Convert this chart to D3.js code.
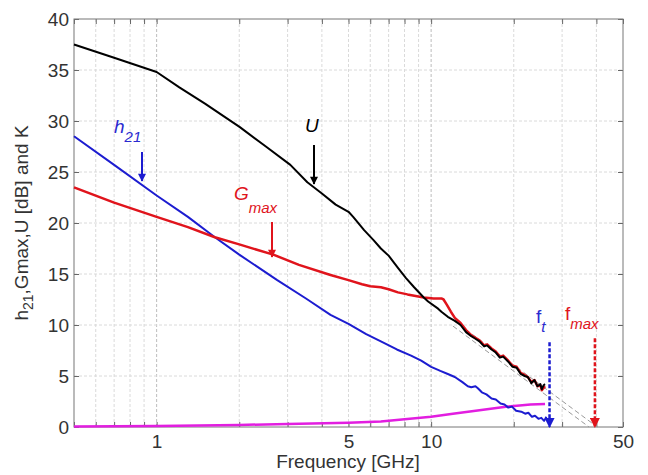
<!DOCTYPE html>
<html>
<head>
<meta charset="utf-8">
<script src="https://cdn.jsdelivr.net/npm/d3@7"></script>
<style>
  body { margin: 0; background: #fff; }
  svg { font-family: "Liberation Sans", Arial, sans-serif; }
</style>
</head>
<body>
<div id="chart"></div>
<script>
// U (black)
var freqU = [0.5, 0.7, 1, 1.21, 1.5, 2.01, 2.5, 3.07, 3.54, 4.0, 4.49, 5.0, 5.2, 5.7, 6.18, 6.56, 7.0, 7.57, 8.1, 8.67, 9.4, 9.75, 10.6, 10.9, 11.5, 12.2, 12.8, 13.4, 14.0, 14.4, 15.0, 15.6, 16.0, 16.6, 17.2, 17.8, 18.3, 19.1, 19.8, 20.5, 21.2, 21.9, 22.5, 23.2, 23.8, 24.4, 25.0, 25.3, 25.7, 26.0];
var valU = [37.5, 36.2, 34.8, 33.3, 31.7, 29.4, 27.5, 25.7, 24.0, 22.9, 21.8, 21.1, 20.6, 19.3, 18.3, 17.5, 16.8, 15.6, 14.6, 13.7, 12.7, 12.3, 11.6, 11.3, 10.8, 10.4, 10.0, 9.3, 8.9, 8.7, 8.4, 7.9, 8.0, 7.6, 7.3, 6.8, 6.9, 6.4, 5.9, 5.8, 5.2, 5.0, 4.9, 4.3, 4.6, 4.0, 4.2, 3.7, 4.1, 4.2];

// Gmax (red)
var freqG = [0.5, 0.7, 1, 1.3, 1.63, 2.0, 2.66, 3.3, 4.3, 5.0, 5.6, 6.0, 6.56, 7.0, 7.57, 8.2, 9.4, 10.2, 10.9, 11.1, 11.4, 11.8, 12.2, 12.8, 13.4, 14.0, 14.4, 15.0, 15.6, 16.0, 16.6, 17.2, 17.8, 18.3, 19.1, 19.8, 20.5, 21.2, 21.9, 22.5, 23.2, 23.8, 24.4, 25.0, 25.3, 26.0];
var valG = [23.5, 22.0, 20.6, 19.6, 18.6, 17.9, 16.9, 15.9, 14.9, 14.4, 14.0, 13.8, 13.7, 13.5, 13.2, 13.0, 12.7, 12.6, 12.6, 12.5, 12.0, 11.3, 10.7, 10.2, 9.5, 9.0, 8.8, 8.5, 8.0, 8.1, 7.7, 7.4, 6.9, 7.0, 6.5, 6.0, 5.9, 5.3, 5.1, 4.9, 4.4, 4.6, 4.0, 4.1, 3.6, 4.0];

// h21 (blue)
var freqH = [0.5, 0.7, 1, 1.3, 1.63, 2.0, 2.75, 3.5, 4.3, 5.0, 5.8, 6.56, 7.5, 8.45, 9.2, 10, 10.8, 11.5, 12.2, 13.0, 13.6, 14.0, 14.5, 14.8, 15.3, 15.9, 16.6, 17.2, 17.9, 18.5, 19.1, 19.7, 20.4, 21.3, 22.0, 22.6, 23.3, 23.9, 24.6, 25.2, 25.8, 26.3];
var valH = [28.5, 25.7, 22.7, 20.6, 18.6, 16.9, 14.4, 12.6, 11.0, 10.1, 9.1, 8.4, 7.6, 7.0, 6.5, 5.9, 5.5, 5.2, 4.9, 4.4, 4.0, 3.9, 4.0, 3.8, 3.4, 3.2, 2.8, 2.7, 2.3, 2.2, 1.9, 2.0, 1.6, 1.5, 1.3, 1.4, 1.0, 1.1, 0.8, 0.9, 0.6, 1.0];

// K (magenta)
var freqK = [0.5, 1, 2, 3, 5, 6.56, 8, 10, 12, 15, 19, 21, 23, 26];
var valK = [0.05, 0.1, 0.2, 0.3, 0.42, 0.55, 0.75, 1.0, 1.3, 1.65, 2.0, 2.1, 2.2, 2.25];

// -20 dB/dec extrapolations (grey dashed)
var extrapFreqA = [12, 37.6];
var extrapValA = [9.9, 0];
var extrapFreqB = [12, 40.3];
var extrapValB = [10.5, 0];

// ft / fmax markers
var ftFreq = 27.0;
var ftTop = 8.3;
var fmaxFreq = 39.5;
var fmaxTop = 8.7;

var xLabels = [1, 5, 10, 50];
var yTicks = [0, 5, 10, 15, 20, 25, 30, 35, 40];

var width = 648;
var height = 475;
var plotLeft = 74, plotRight = 623, plotTop = 19, plotBottom = 427;

var x = d3.scaleLog().domain([0.5, 50]).range([plotLeft, plotRight]);
var y = d3.scaleLinear().domain([0, 40]).range([plotBottom, plotTop]);

var xTicks = x.ticks();

var svg = d3.select('#chart').append('svg')
    .attr('width', width)
    .attr('height', height);

var defs = svg.append('defs');
function marker(id, color) {
    defs.append('marker')
        .attr('id', id)
        .attr('viewBox', '0 0 10 10')
        .attr('refX', 9).attr('refY', 5)
        .attr('markerWidth', 5).attr('markerHeight', 4)
        .attr('markerUnits', 'strokeWidth')
        .attr('orient', 'auto')
        .append('path')
        .attr('d', 'M0,0 L10,5 L0,10 z')
        .attr('fill', color);
}
marker('arrBlack', '#000');
marker('arrBlue', '#1c1cd0');
marker('arrRed', '#e0141c');

// grid
var grid = svg.append('g');
grid.selectAll('line.vg')
    .data(xTicks.filter(function(d) { return d > 0.5 && d < 50; }))
    .enter().append('line')
    .attr('x1', function(d) { return x(d); })
    .attr('x2', function(d) { return x(d); })
    .attr('y1', plotTop).attr('y2', plotBottom)
    .style('stroke', function(d) { return (d === 1 || d === 10) ? '#bdbdbd' : '#dadada'; })
    .style('stroke-width', 1)
    .style('stroke-dasharray', '3,2');

grid.selectAll('line.hg')
    .data(yTicks.filter(function(d) { return d > 0 && d < 40; }))
    .enter().append('line')
    .attr('x1', plotLeft).attr('x2', plotRight)
    .attr('y1', function(d) { return y(d); })
    .attr('y2', function(d) { return y(d); })
    .style('stroke', '#dadada')
    .style('stroke-width', 1)
    .style('stroke-dasharray', '3,2');

// axes
var xAxis = svg.append('g')
    .attr('transform', 'translate(0,' + plotBottom + ')')
    .call(d3.axisBottom(x).tickValues(xTicks).tickSizeInner(-5).tickSizeOuter(0).tickPadding(8)
        .tickFormat(function(d) { return xLabels.indexOf(d) >= 0 ? d : ''; }));
svg.append('g')
    .attr('transform', 'translate(0,' + plotTop + ')')
    .call(d3.axisTop(x).tickValues(xTicks).tickSizeInner(-5).tickSizeOuter(0).tickFormat(''));
var yAxis = svg.append('g')
    .attr('transform', 'translate(' + plotLeft + ',0)')
    .call(d3.axisLeft(y).tickValues(yTicks).tickSizeInner(-5).tickSizeOuter(0).tickPadding(5));
svg.append('g')
    .attr('transform', 'translate(' + plotRight + ',0)')
    .call(d3.axisRight(y).tickValues(yTicks).tickSizeInner(-5).tickSizeOuter(0).tickFormat(''));

svg.selectAll('.domain').remove();
svg.selectAll('.tick line').style('stroke', '#666');
svg.selectAll('.tick text')
    .style('font-size', '19px')
    .style('fill', '#333')
    .style('font-family', '"Liberation Sans", Arial, sans-serif');
xAxis.selectAll('.tick text').attr('dy', '0.71em');

svg.append('rect')
    .attr('x', plotLeft).attr('y', plotTop)
    .attr('width', plotRight - plotLeft).attr('height', plotBottom - plotTop)
    .style('fill', 'none')
    .style('stroke', '#777')
    .style('stroke-width', 1);

// series
function zip(fs, vs) {
    return fs.map(function(f, i) { return [f, vs[i]]; });
}
var line = d3.line()
    .x(function(d) { return x(d[0]); })
    .y(function(d) { return y(d[1]); });

function drawSeries(data, color, w, dash) {
    svg.append('path')
        .datum(data)
        .attr('d', line)
        .style('fill', 'none')
        .style('stroke', color)
        .style('stroke-width', w)
        .style('stroke-linejoin', 'round')
        .style('stroke-dasharray', dash || null);
}

drawSeries(zip(extrapFreqA, extrapValA), '#9a9a9a', 1, '5,3');
drawSeries(zip(extrapFreqB, extrapValB), '#9a9a9a', 1, '5,3');
drawSeries(zip(freqK, valK), '#e21ee0', 2.5);
drawSeries(zip(freqH, valH), '#1c1cd0', 2);
drawSeries(zip(freqG, valG), '#e0141c', 2.5);
drawSeries(zip(freqU, valU), '#000', 2);

// ft / fmax dashed arrows
function vArrow(f, v0, v1, color, id, dash) {
    svg.append('line')
        .attr('x1', x(f)).attr('x2', x(f))
        .attr('y1', y(v0)).attr('y2', y(v1))
        .style('stroke', color)
        .style('stroke-width', 2.5)
        .style('stroke-dasharray', dash || null)
        .attr('marker-end', 'url(#' + id + ')');
}
vArrow(ftFreq, ftTop, 0, '#1c1cd0', 'arrBlue', '4,2');
vArrow(fmaxFreq, fmaxTop, 0, '#e0141c', 'arrRed', '4,2');

// pointer arrows for the curve labels
function pArrow(px, py0, py1, color, id) {
    svg.append('line')
        .attr('x1', px).attr('x2', px)
        .attr('y1', py0).attr('y2', py1)
        .style('stroke', color)
        .style('stroke-width', 2)
        .attr('marker-end', 'url(#' + id + ')');
}
pArrow(142, 152, 181, '#1c1cd0', 'arrBlue');
pArrow(314, 145, 184, '#000', 'arrBlack');
pArrow(272, 222, 257, '#e0141c', 'arrRed');

function label(px, py, main, sub, color, italicMain, subDy) {
    var t = svg.append('text')
        .attr('x', px).attr('y', py)
        .style('fill', color)
        .style('font-size', '19px');
    t.append('tspan').text(main).style('font-style', italicMain ? 'italic' : 'normal');
    if (sub) {
        t.append('tspan').text(sub)
            .attr('dy', subDy)
            .style('font-size', '15px')
            .style('font-style', 'italic');
    }
}
label(114, 133, 'h', '21', '#2a2ad0', true, 9);
label(305, 132, 'U', null, '#000', true, 0);
label(234, 200, 'G', 'max', '#e0141c', true, 13);
label(536, 323, 'f', 't', '#2a2ad0', false, 9);
label(565, 320, 'f', 'max', '#e0141c', false, 9);

// axis titles
svg.append('text')
    .attr('x', 348).attr('y', 468)
    .attr('text-anchor', 'middle')
    .style('font-size', '19px')
    .style('fill', '#333')
    .text('Frequency [GHz]');

var yt = svg.append('text')
    .attr('transform', 'translate(28,' + ((plotTop + plotBottom) / 2) + ') rotate(-90)')
    .attr('text-anchor', 'middle')
    .style('font-size', '19px')
    .style('fill', '#333');
yt.append('tspan').text('h');
yt.append('tspan').text('21').attr('dy', 5).style('font-size', '14px');
yt.append('tspan').text(',Gmax,U [dB] and K').attr('dy', -5);
</script>
</body>
</html>
